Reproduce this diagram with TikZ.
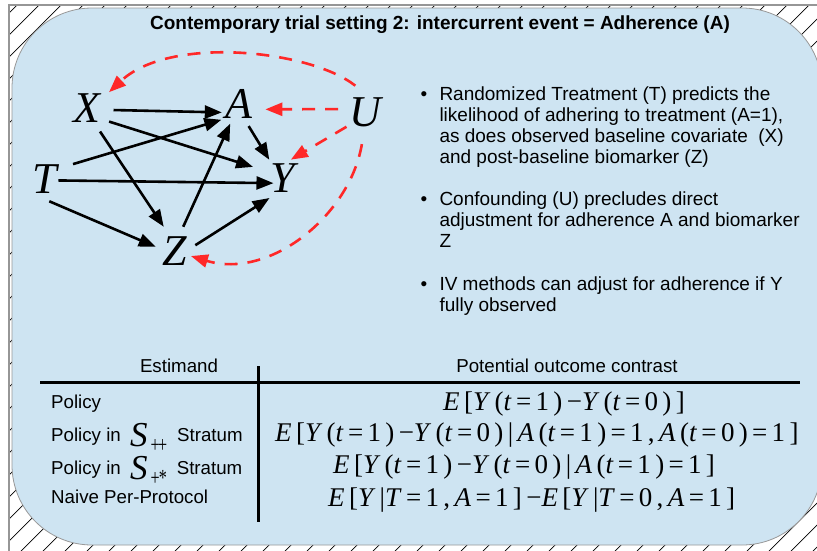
\documentclass[tikz,border=0pt]{standalone}
\usepackage{fontspec}
\setmainfont{Liberation Sans}
\newfontfamily\dagfont{Liberation Serif}
\newfontfamily\fmlfont{Liberation Serif}[LetterSpace=16]
\usetikzlibrary{arrows.meta}
\definecolor{bgblue}{RGB}{206,228,242}
\definecolor{dagred}{RGB}{255,40,40}
\definecolor{framegray}{RGB}{150,150,150}
\newcommand{\fx}[1]{\textit{#1}}
\tikzset{
  var/.style={circle, inner sep=0pt, minimum size=44pt, font=\dagfont\itshape\fontsize{44}{44}\selectfont},
  arr/.style={line width=2.6pt, -{Triangle[length=17pt,width=13pt]}},
  conf/.style={draw=dagred, line width=2.6pt, dash pattern=on 13pt off 10pt, -{Triangle[length=17pt,width=13pt]}},
  hatch/.style={line width=0.7pt, black},
  btext/.style={anchor=base west, inner sep=0pt, font=\fontsize{19}{21}\selectfont},
  bdot/.style={anchor=base, inner sep=0pt, font=\fontsize{19}{21}\selectfont},
  ttext/.style={anchor=base west, inner sep=0pt, font=\fontsize{18.7}{21}\selectfont},
  thead/.style={anchor=base, inner sep=0pt, font=\fontsize{18.7}{21}\selectfont},
  fml/.style={anchor=base west, inner sep=0pt, font=\fmlfont\fontsize{27}{27}\selectfont},
  rule/.style={line width=3pt, black},
}
\newcommand{\bigS}{\raisebox{-5pt}{\dagfont\itshape\fontsize{35}{35}\selectfont S}}
\newcommand{\subs}[1]{\raisebox{-11pt}{\scalebox{0.7}[1]{\dagfont\fontsize{23}{23}\selectfont #1}}}
\begin{document}
\begin{tikzpicture}[x=1pt,y=-1pt]
\useasboundingbox (0,0) rectangle (817,550);
\fill[white] (0,0) rectangle (817,550);
% hatched background
\begin{scope}
\clip (9,5) rectangle (817,550);
\foreach \i in {-560,-538,...,830} \draw[hatch] (\i,560) -- ++(580,-580);
\end{scope}
\draw[framegray, line width=2pt] (9,560) -- (9,5) -- (830,5);
% panel
\draw[draw=gray!80, line width=0.8pt, fill=bgblue, rounded corners=80pt] (12,8) rectangle (822,545);

% title
\node[anchor=base, inner sep=0pt, font=\bfseries\fontsize{19}{19}\selectfont] (title) at (440,29) {Contemporary trial setting 2: intercurrent event = Adherence (A)};

% DAG nodes
\node[var] (X) at (87,108) {X};
\node[var] (A) at (238.5,104) {A};
\node[var] (U) at (365,112.5) {U};
\node[var] (T) at (45,179) {T};
\node[var] (Y) at (282.5,178) {Y};
\node[var] (Z) at (174.5,251) {Z};

% causal arrows
\draw[arr, shorten <=4.4pt, shorten >=-3.9pt] (X.-5.9) -- (A.-158.3);
\draw[arr, shorten <=3.9pt, shorten >=9.3pt] (X.-34.6) -- (Y.158.8);
\draw[arr, shorten <=4.7pt, shorten >=4.4pt] (X.-62.6) -- (Z.112.8);
\draw[arr, shorten <=9.8pt, shorten >=1.2pt] (T.33) -- (A.-136.4);
\draw[arr, shorten <=-8.7pt, shorten >=-12.6pt] (T.-4.3) -- (Y.-167.7);
\draw[arr, shorten <=0.9pt, shorten >=-3pt] (T.-81.7) -- (Z.166.9);
\draw[arr, shorten <=3.6pt, shorten >=-0.9pt] (Z.71.4) -- (A.-113.8);
\draw[arr, shorten <=-0.6pt, shorten >=1.8pt] (Z.16.3) -- (Y.-121.6);
\draw[arr, shorten <=2.1pt, shorten >=0.3pt] (A.-66) -- (Y.126.3);

% confounding arrows
\draw[conf, shorten <=5pt, shorten >=5.3pt] (U.171) -- (A.-14.2);
\draw[conf, shorten <=1.2pt, shorten >=-2.4pt] (U.-142.2) -- (Y.62);
\draw[conf, shorten <=7.9pt, shorten >=5pt] (U.99.6) .. controls (310,50) and (170,35) .. (X.34.5);
\draw[conf, shorten <=9.6pt, shorten >=-5pt] (U.-94.5) .. controls (350,215) and (270,280) .. (Z.-17.1);

% bullets
\node[bdot] (b1) at (424,100) {•};
\node[btext] (b1a) at (439.3,100) {Randomized Treatment (T) predicts the};
\node[btext] (b1b) at (439.3,121) {likelihood of adhering to treatment (A=1),};
\node[btext] (b1c) at (439.3,142) {as does observed baseline covariate \ (X)};
\node[btext] (b1d) at (439.3,163) {and post-baseline biomarker (Z)};
\node[bdot] (b2) at (424,205) {•};
\node[btext] (b2a) at (439.3,205) {Confounding (U) precludes direct};
\node[btext] (b2b) at (439.3,226) {adjustment for adherence A and biomarker};
\node[btext] (b2c) at (439.3,247) {Z};
\node[bdot] (b3) at (424,290) {•};
\node[btext] (b3a) at (439.3,290) {IV methods can adjust for adherence if Y};
\node[btext] (b3b) at (439.3,311) {fully observed};

% table
\node[thead] (h1) at (179,372) {Estimand};
\node[thead] (h2) at (567,372) {Potential outcome contrast};
\coordinate (hl) at (40,382);
\coordinate (hr) at (800,382);
\coordinate (vt) at (258,366);
\coordinate (vb) at (258,522);
\draw[rule] (hl) -- (hr);
\draw[rule] (vt) -- (vb);

\node[ttext] (r1) at (51,408.3) {Policy};
\node[ttext] (r2) at (51,441.7) {Policy in\hspace{9.4pt}\bigS\hspace{3pt}\subs{+\kern-2.5pt+}\hspace{10pt}Stratum};
\node[ttext] (r3) at (51,474) {Policy in\hspace{9.4pt}\bigS\hspace{3pt}\subs{+\kern-1.5pt*}\hspace{10pt}Stratum};
\node[ttext] (r4) at (51,503.3) {Naive Per-Protocol};

\node[fml] (f1) at (443,410) {\fx{E}[\fx{Y}(\fx{t}=1)−\fx{Y}(\fx{t}=0)]};
\node[fml] (f2) at (275,441.7) {\fx{E}[\fx{Y}(\fx{t}=1)−\fx{Y}(\fx{t}=0)|\,\fx{A}(\fx{t}=1)=1,\,\fx{A}(\fx{t}=0)=1]};
\node[fml] (f3) at (333,473.3) {\fx{E}[\fx{Y}(\fx{t}=1)−\fx{Y}(\fx{t}=0)|\,\fx{A}(\fx{t}=1)=1]};
\node[fml] (f4) at (328,506.7) {\fx{E}[\fx{Y}|\fx{T}=1,\,\fx{A}=1]−\fx{E}[\fx{Y}|\fx{T}=0,\,\fx{A}=1]};
\end{tikzpicture}
\end{document}
